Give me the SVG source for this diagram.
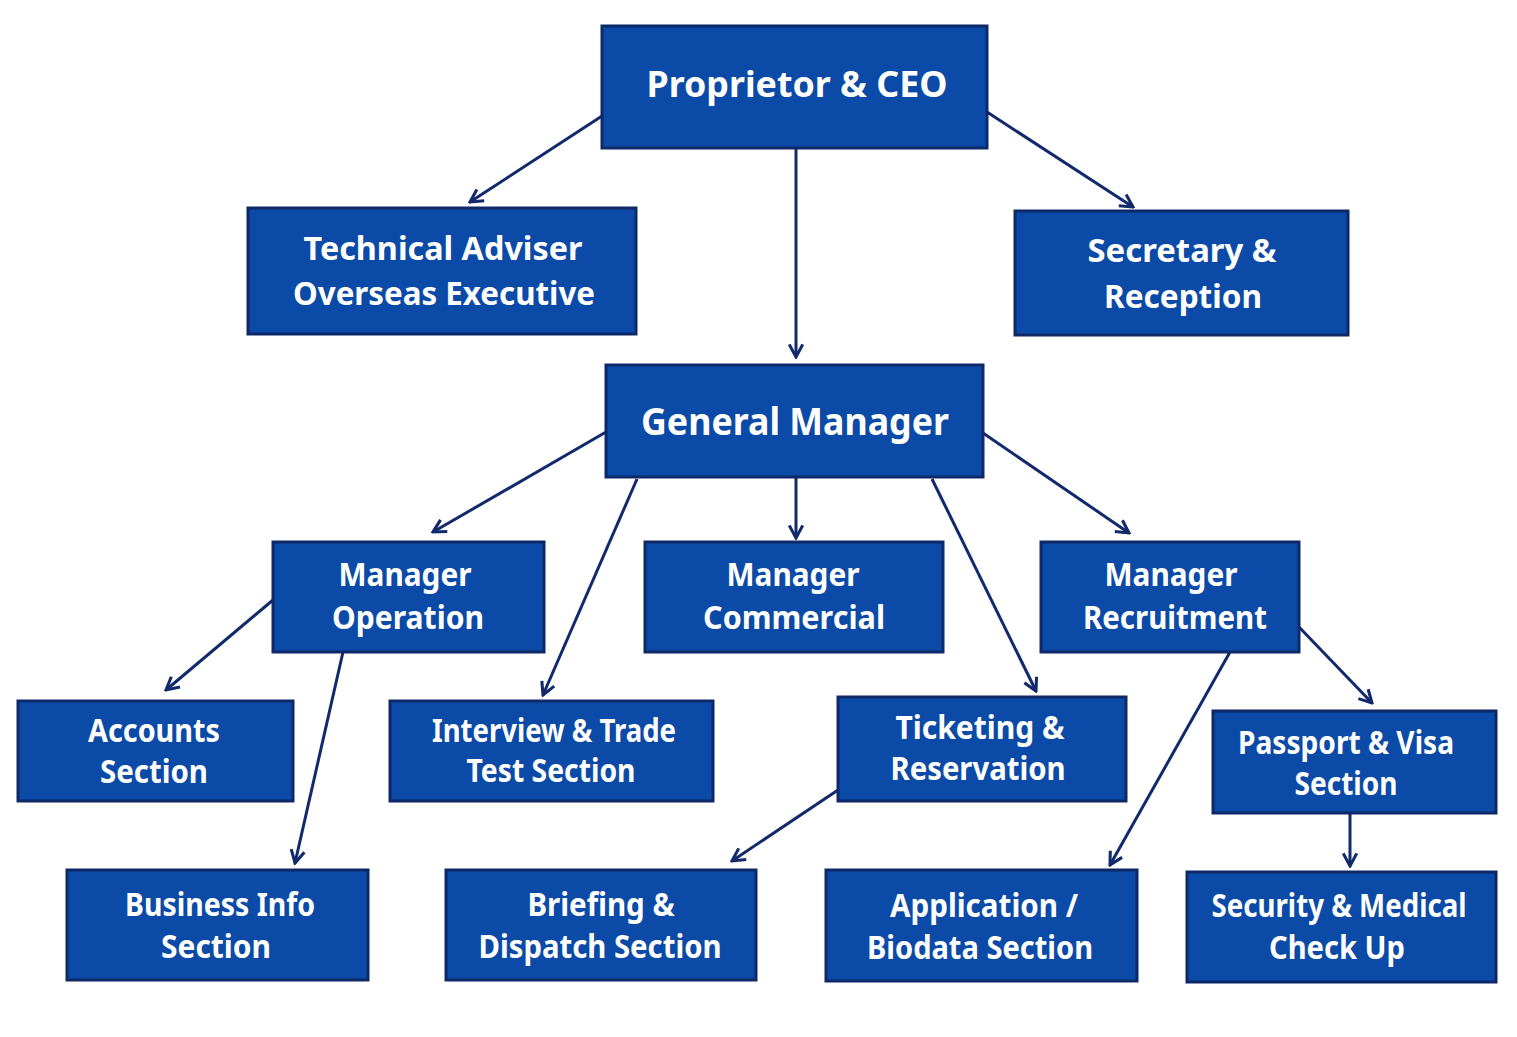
<svg xmlns="http://www.w3.org/2000/svg" width="1517" height="1037" viewBox="0 0 1517 1037">
<defs>
<style>
.box{fill:#0b4aa7;stroke:#0f2868;stroke-width:3}
.t{font-family:"Noto Sans","Open Sans","Liberation Sans",sans-serif;font-weight:bold;fill:#ffffff;text-anchor:middle;font-size:32px}
.c{stroke:#12296b;stroke-width:3;fill:none;marker-end:url(#ah)}
</style>
<marker id="ah" viewBox="0 0 20 20" refX="18" refY="10" markerWidth="18" markerHeight="18" markerUnits="userSpaceOnUse" orient="auto">
<path d="M4,2.5 L18,10 L4,17.5" fill="none" stroke="#12296b" stroke-width="3.4"/>
</marker>
</defs>
<rect width="1517" height="1037" fill="#ffffff"/>
<g id="connectors">
<line class="c" x1="602" y1="116" x2="470" y2="202"/>
<line class="c" x1="796" y1="148" x2="796" y2="357"/>
<line class="c" x1="987" y1="112" x2="1133" y2="207"/>
<line class="c" x1="606" y1="432" x2="433" y2="532"/>
<line class="c" x1="637" y1="479" x2="543" y2="695"/>
<line class="c" x1="796" y1="477" x2="796" y2="538"/>
<line class="c" x1="932" y1="479" x2="1036" y2="691"/>
<line class="c" x1="983" y1="433" x2="1129" y2="533"/>
<line class="c" x1="273" y1="600" x2="166" y2="690"/>
<line class="c" x1="343" y1="652" x2="295" y2="863"/>
<line class="c" x1="1230" y1="652" x2="1110" y2="865"/>
<line class="c" x1="1299" y1="627" x2="1372" y2="703"/>
<line class="c" x1="838" y1="790" x2="732" y2="861"/>
<line class="c" x1="1350" y1="813" x2="1350" y2="866"/>
</g>
<g id="n-ceo">
<rect class="box" x="602" y="26" width="385" height="122"/>
<text class="t" x="797" y="97" style="font-size:35px" textLength="301" lengthAdjust="spacingAndGlyphs">Proprietor &amp; CEO</text>
</g>
<g id="n-tech">
<rect class="box" x="248" y="208" width="388" height="126"/>
<text class="t" x="443" y="260" textLength="279" lengthAdjust="spacingAndGlyphs">Technical Adviser</text>
<text class="t" x="444" y="305" textLength="302" lengthAdjust="spacingAndGlyphs">Overseas Executive</text>
</g>
<g id="n-sec">
<rect class="box" x="1015" y="211" width="333" height="124"/>
<text class="t" x="1182" y="262" textLength="189" lengthAdjust="spacingAndGlyphs">Secretary &amp;</text>
<text class="t" x="1183" y="308" textLength="158" lengthAdjust="spacingAndGlyphs">Reception</text>
</g>
<g id="n-gm">
<rect class="box" x="606" y="365" width="377" height="112"/>
<text class="t" x="795" y="435" style="font-size:38px" textLength="308" lengthAdjust="spacingAndGlyphs">General Manager</text>
</g>
<g id="n-mop">
<rect class="box" x="273" y="542" width="271" height="110"/>
<text class="t" x="405" y="586" textLength="133" lengthAdjust="spacingAndGlyphs">Manager</text>
<text class="t" x="408" y="629" textLength="152" lengthAdjust="spacingAndGlyphs">Operation</text>
</g>
<g id="n-mcom">
<rect class="box" x="645" y="542" width="298" height="110"/>
<text class="t" x="793" y="586" textLength="133" lengthAdjust="spacingAndGlyphs">Manager</text>
<text class="t" x="794" y="629" textLength="182" lengthAdjust="spacingAndGlyphs">Commercial</text>
</g>
<g id="n-mrec">
<rect class="box" x="1041" y="542" width="258" height="110"/>
<text class="t" x="1171" y="586" textLength="133" lengthAdjust="spacingAndGlyphs">Manager</text>
<text class="t" x="1175" y="629" textLength="184" lengthAdjust="spacingAndGlyphs">Recruitment</text>
</g>
<g id="n-acc">
<rect class="box" x="18" y="701" width="275" height="100"/>
<text class="t" x="154" y="742" textLength="132" lengthAdjust="spacingAndGlyphs">Accounts</text>
<text class="t" x="154" y="783" textLength="108" lengthAdjust="spacingAndGlyphs">Section</text>
</g>
<g id="n-int">
<rect class="box" x="390" y="701" width="323" height="100"/>
<text class="t" x="554" y="742" textLength="244" lengthAdjust="spacingAndGlyphs">Interview &amp; Trade</text>
<text class="t" x="551" y="782" textLength="169" lengthAdjust="spacingAndGlyphs">Test Section</text>
</g>
<g id="n-tick">
<rect class="box" x="838" y="697" width="288" height="104"/>
<text class="t" x="980" y="739" textLength="169" lengthAdjust="spacingAndGlyphs">Ticketing &amp;</text>
<text class="t" x="978" y="780" textLength="175" lengthAdjust="spacingAndGlyphs">Reservation</text>
</g>
<g id="n-pass">
<rect class="box" x="1213" y="711" width="283" height="102"/>
<text class="t" x="1346" y="754" textLength="216" lengthAdjust="spacingAndGlyphs">Passport &amp; Visa</text>
<text class="t" x="1346" y="795" textLength="103" lengthAdjust="spacingAndGlyphs">Section</text>
</g>
<g id="n-bus">
<rect class="box" x="67" y="870" width="301" height="110"/>
<text class="t" x="220" y="916" textLength="190" lengthAdjust="spacingAndGlyphs">Business Info</text>
<text class="t" x="216" y="958" textLength="110" lengthAdjust="spacingAndGlyphs">Section</text>
</g>
<g id="n-brief">
<rect class="box" x="446" y="870" width="310" height="110"/>
<text class="t" x="601" y="916" textLength="147" lengthAdjust="spacingAndGlyphs">Briefing &amp;</text>
<text class="t" x="600" y="958" textLength="243" lengthAdjust="spacingAndGlyphs">Dispatch Section</text>
</g>
<g id="n-app">
<rect class="box" x="826" y="870" width="311" height="111"/>
<text class="t" x="984" y="917" textLength="188" lengthAdjust="spacingAndGlyphs">Application /</text>
<text class="t" x="980" y="959" textLength="226" lengthAdjust="spacingAndGlyphs">Biodata Section</text>
</g>
<g id="n-secmed">
<rect class="box" x="1187" y="872" width="309" height="110"/>
<text class="t" x="1339" y="917" textLength="255" lengthAdjust="spacingAndGlyphs">Security &amp; Medical</text>
<text class="t" x="1337" y="959" textLength="136" lengthAdjust="spacingAndGlyphs">Check Up</text>
</g>
</svg>
